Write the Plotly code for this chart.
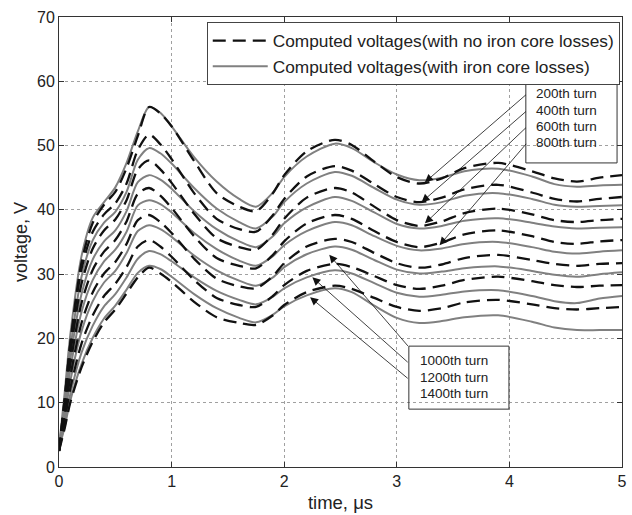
import plotly.graph_objects as go

# time grid (microseconds)
t = [0, 0.05, 0.1, 0.2, 0.3, 0.4, 0.5, 0.6, 0.7, 0.8, 0.9, 1.0, 1.2, 1.4, 1.6, 1.75,
     1.9, 2.0, 2.2, 2.45, 2.6, 2.8, 3.0, 3.2, 3.4, 3.6, 3.9, 4.2, 4.4, 4.6, 4.8, 5.0]

turns = ["200th", "400th", "600th", "800th", "1000th", "1200th", "1400th"]

# computed voltages with no iron core losses (dashed)
d200 = [2.5, 10.5, 19.2, 31.8, 38.0, 40.8, 42.8, 46.5, 51.5, 56.0, 55.0, 53.0, 47.6, 42.6, 40.5, 39.8, 42.6, 45.4, 49.1, 50.9, 50.1, 47.5, 45.1, 44.1, 44.9, 46.5, 47.3, 46.0, 44.9, 44.4, 45.0, 45.4]
d400 = [2.5, 10.5, 19.0, 30.8, 36.6, 39.3, 41.0, 44.1, 49.3, 51.7, 50.2, 47.9, 42.6, 38.6, 37.0, 36.6, 39.2, 41.7, 45.2, 46.8, 46.1, 44.0, 42.0, 41.2, 41.9, 43.2, 43.9, 42.7, 41.7, 41.3, 41.7, 42.0]
d600 = [2.5, 9.8, 17.6, 28.5, 34.0, 36.8, 38.5, 41.5, 46.3, 47.7, 46.3, 44.2, 39.4, 35.6, 34.2, 33.8, 36.2, 38.6, 41.9, 43.4, 42.7, 40.5, 38.4, 37.5, 38.2, 39.5, 40.2, 39.3, 38.4, 38.1, 38.4, 38.6]
d800 = [2.5, 9.0, 15.9, 25.5, 30.7, 33.5, 35.3, 38.2, 42.5, 43.4, 42.2, 40.3, 35.9, 32.5, 31.3, 30.9, 33.0, 35.1, 37.9, 39.2, 38.6, 36.7, 35.0, 34.2, 34.9, 36.2, 36.8, 35.9, 35.0, 34.7, 35.1, 35.3]
d1000 = [2.5, 8.0, 14.0, 22.4, 27.2, 30.1, 31.9, 34.7, 38.4, 39.2, 38.1, 36.4, 32.4, 29.3, 28.1, 27.8, 29.7, 31.7, 34.3, 35.5, 35.0, 33.3, 31.7, 31.0, 31.5, 32.5, 33.0, 32.2, 31.6, 31.3, 31.6, 31.7]
d1200 = [2.5, 7.1, 12.2, 19.2, 23.6, 26.6, 28.5, 31.1, 34.3, 35.3, 34.3, 32.7, 29.1, 26.3, 25.2, 24.9, 26.6, 28.3, 30.5, 31.6, 31.1, 29.7, 28.3, 27.7, 28.2, 29.1, 29.6, 28.9, 28.3, 28.0, 28.2, 28.3]
d1400 = [2.5, 6.0, 10.0, 15.5, 19.5, 22.5, 24.5, 27.0, 29.5, 31.0, 30.1, 28.8, 25.7, 23.3, 22.4, 22.1, 23.6, 25.2, 27.2, 28.2, 27.7, 26.3, 24.9, 24.3, 24.7, 25.6, 26.0, 25.3, 24.7, 24.5, 24.7, 24.9]

# computed voltages with iron core losses (solid)
s200 = [3.0, 11.5, 20.5, 32.8, 38.8, 41.2, 43.5, 47.3, 52.2, 56.0, 55.1, 53.0, 48.2, 44.4, 41.7, 40.5, 42.7, 45.1, 48.3, 50.3, 49.6, 47.4, 45.5, 44.6, 45.0, 46.0, 46.4, 45.2, 44.0, 43.6, 43.8, 43.9]
s400 = [3.0, 10.2, 18.3, 29.6, 35.3, 38.0, 39.7, 42.8, 47.8, 49.6, 48.8, 47.2, 43.4, 40.2, 38.1, 37.1, 39.0, 41.2, 44.1, 45.9, 45.3, 43.4, 41.6, 40.8, 41.2, 42.2, 42.6, 41.7, 40.8, 40.5, 40.6, 40.7]
s600 = [3.0, 9.4, 16.7, 26.9, 32.3, 35.1, 36.8, 39.8, 44.3, 45.4, 44.7, 43.3, 39.8, 37.0, 35.1, 34.2, 35.9, 37.9, 40.4, 42.0, 41.4, 39.6, 37.8, 37.1, 37.5, 38.3, 38.7, 38.0, 37.4, 37.1, 37.2, 37.3]
s800 = [3.0, 8.5, 15.1, 24.1, 29.1, 32.0, 33.8, 36.6, 40.7, 41.5, 40.9, 39.6, 36.4, 33.9, 32.1, 31.3, 32.8, 34.5, 36.7, 38.1, 37.6, 35.9, 34.4, 33.7, 34.0, 34.7, 35.0, 34.2, 33.5, 33.2, 33.5, 33.7]
s1000 = [3.0, 7.6, 13.3, 21.1, 25.8, 28.7, 30.5, 33.3, 36.7, 37.6, 37.0, 35.8, 32.9, 30.6, 29.0, 28.2, 29.5, 31.1, 33.1, 34.3, 33.8, 32.2, 30.7, 30.1, 30.4, 30.9, 31.2, 30.5, 29.9, 29.6, 30.0, 30.3]
s1200 = [3.0, 6.7, 11.3, 17.8, 22.0, 25.0, 26.9, 29.5, 32.4, 33.6, 33.1, 32.0, 29.5, 27.4, 26.0, 25.3, 26.5, 27.8, 29.5, 30.6, 30.1, 28.6, 27.1, 26.5, 26.8, 27.3, 27.5, 26.6, 25.8, 25.5, 26.2, 26.6]
s1400 = [3.0, 6.2, 10.3, 16.0, 20.1, 23.1, 25.1, 27.6, 30.2, 31.3, 30.8, 29.6, 26.9, 24.7, 23.2, 22.5, 23.7, 25.0, 26.7, 27.8, 27.2, 25.1, 23.2, 22.4, 22.7, 23.3, 23.6, 22.6, 21.7, 21.3, 21.3, 21.3]

dashed = [d200, d400, d600, d800, d1000, d1200, d1400]
solid = [s200, s400, s600, s800, s1000, s1200, s1400]

# annotation arrow targets (time, voltage) and label sets
upper_labels = ["200th turn", "400th turn", "600th turn", "800th turn"]
upper_targets = [(3.25, 44.3), (3.22, 41.2), (3.25, 37.9), (3.38, 34.5)]
lower_labels = ["1000th turn", "1200th turn", "1400th turn"]
lower_targets = [(2.40, 33.0), (2.25, 29.5), (2.23, 26.4)]

FONT = "Liberation Sans, Arial, Helvetica, sans-serif"
DASH_COLOR = "#111111"
SOLID_COLOR = "#808080"

fig = go.Figure()
for i, (s, name) in enumerate(zip(solid, turns)):
    fig.add_trace(go.Scatter(
        x=t, y=s, mode="lines", line=dict(color=SOLID_COLOR, width=2, shape="spline", smoothing=0.8),
        name="Computed voltages(with iron core losses)", legendgroup="solid",
        showlegend=(i == 0), legendrank=2))
for i, (d, name) in enumerate(zip(dashed, turns)):
    fig.add_trace(go.Scatter(
        x=t, y=d, mode="lines", line=dict(color=DASH_COLOR, width=2.3, dash="13px,7px", shape="spline", smoothing=0.8),
        name="Computed voltages(with no iron core losses)", legendgroup="dashed",
        showlegend=(i == 0), legendrank=1))

annotations = []
shapes = []
# upper label box
shapes.append(dict(type="rect", xref="x", yref="y", x0=4.146, x1=4.956, y0=47.3, y1=60.2,
                   line=dict(color="#333333", width=1), fillcolor="rgba(0,0,0,0)", layer="above"))
upper_text_y = [58.1, 55.5, 53.0, 50.5]
for lab, ty, (tx, vy) in zip(upper_labels, upper_text_y, upper_targets):
    annotations.append(dict(x=4.215, y=ty, xref="x", yref="y", text=lab, showarrow=False,
                            xanchor="left", yanchor="middle", font=dict(family=FONT, size=13.5, color="#222")))
    annotations.append(dict(x=tx, y=vy, xref="x", yref="y", ax=4.16, ay=ty, axref="x", ayref="y",
                            text="", showarrow=True, arrowhead=2, arrowsize=2.0, arrowwidth=0.8,
                            arrowcolor="#111"))
# lower label box
shapes.append(dict(type="rect", xref="x", yref="y", x0=3.107, x1=3.996, y0=9.0, y1=18.8,
                   line=dict(color="#333333", width=1), fillcolor="rgba(0,0,0,0)", layer="above"))
lower_text_y = [16.5, 14.0, 11.5]
for lab, ty, (tx, vy) in zip(lower_labels, lower_text_y, lower_targets):
    annotations.append(dict(x=3.19, y=ty, xref="x", yref="y", text=lab, showarrow=False,
                            xanchor="left", yanchor="middle", font=dict(family=FONT, size=13.5, color="#222")))
    annotations.append(dict(x=tx, y=vy, xref="x", yref="y", ax=3.11, ay=ty + 2.1, axref="x", ayref="y",
                            text="", showarrow=True, arrowhead=2, arrowsize=2.0, arrowwidth=0.8,
                            arrowcolor="#111"))

axis_common = dict(
    showgrid=True, gridcolor="#a0a0a0", griddash="dot", gridwidth=1,
    showline=True, linecolor="#333333", linewidth=1, mirror="ticks",
    ticks="inside", ticklen=5, tickcolor="#333333", zeroline=False,
    tickfont=dict(family=FONT, size=16, color="#222"),
)

fig.update_layout(
    width=632, height=515,
    margin=dict(l=59, r=5, t=17, b=48),
    paper_bgcolor="white", plot_bgcolor="white",
    font=dict(family=FONT, color="#222"),
    xaxis=dict(range=[0, 5], dtick=1, title=dict(text="time, \u03bcs", font=dict(family=FONT, size=18.5), standoff=6),
               **axis_common),
    yaxis=dict(range=[0, 70], dtick=10, title=dict(text="voltage, V", font=dict(family=FONT, size=18), standoff=4),
               **axis_common),
    legend=dict(x=0.996, y=0.989, xanchor="right", yanchor="top",
                bgcolor="white", bordercolor="#444444", borderwidth=1,
                font=dict(family=FONT, size=17.3, color="#222"), itemwidth=55,
                tracegroupgap=0),
    shapes=shapes, annotations=annotations,
)

fig.write_html("out.html")
